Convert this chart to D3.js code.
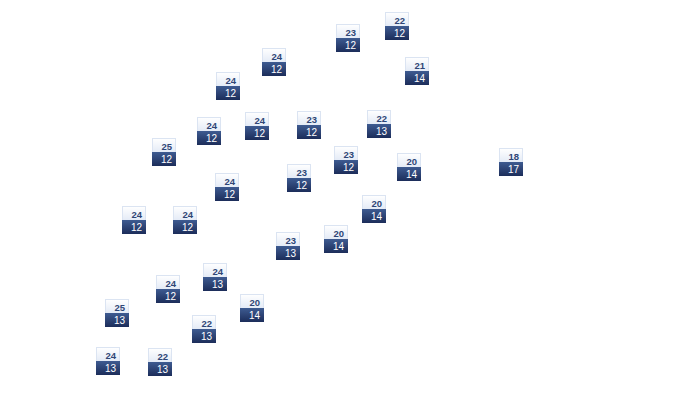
<!DOCTYPE html>
<html>
<head>
<meta charset="utf-8">
<script src="https://cdn.jsdelivr.net/npm/d3@7"></script>
<style>
  html, body { margin: 0; padding: 0; background: #ffffff; }
  svg { display: block; }
</style>
</head>
<body>
<div id="chart"></div>
<script>
// Data
const xValues = [39.7, 34.8, 27.4, 41.7, 22.8, 20.9, 25.7, 30.9, 37.9, 16.4, 34.6, 40.9, 51.1, 22.7,
                 29.9, 37.4, 13.4, 18.5, 33.6, 28.8, 21.5, 16.8, 11.7, 25.2, 20.4, 10.8, 16.0];
const yValues = [38.4, 37.2, 34.8, 33.9, 32.4, 27.9, 28.4, 28.5, 28.6, 25.8, 25.0, 24.3, 24.8, 22.3,
                 23.2, 20.1, 19.0, 19.0, 17.1, 16.4, 13.3, 12.1, 9.7, 10.2, 8.1, 4.9, 4.8];
const topLabels = [22, 23, 24, 21, 24, 24, 24, 23, 22, 25, 23, 20, 18, 24,
                   23, 20, 24, 24, 20, 23, 24, 24, 25, 20, 22, 24, 22];
const bottomLabels = [12, 12, 12, 14, 12, 12, 12, 12, 13, 12, 12, 14, 17, 12,
                      12, 14, 12, 12, 14, 13, 13, 12, 13, 14, 13, 13, 13];

const width = 700, height = 410;
const svg = d3.select("#chart").append("svg")
  .attr("width", width).attr("height", height);

const defs = svg.append("defs");
const gTop = defs.append("linearGradient").attr("id", "gTop")
  .attr("x1", 0).attr("y1", 0).attr("x2", 0).attr("y2", 1);
gTop.append("stop").attr("offset", "0%").attr("stop-color", "#ffffff");
gTop.append("stop").attr("offset", "100%").attr("stop-color", "#e3eaf6");
const gBot = defs.append("linearGradient").attr("id", "gBot")
  .attr("x1", 0).attr("y1", 0).attr("x2", 0).attr("y2", 1);
gBot.append("stop").attr("offset", "0%").attr("stop-color", "#3e5b91");
gBot.append("stop").attr("offset", "100%").attr("stop-color", "#1c2d5a");

const x = d3.scaleLinear().domain([0, 70]).range([0, 700]);
const y = d3.scaleLinear().domain([0, 41]).range([410, 0]);

const data = xValues.map((v, i) => ({ x: v, y: yValues[i], t: topLabels[i], b: bottomLabels[i] }));

const W = 24, H = 14;
const g = svg.selectAll("g.m").data(data).join("g")
  .attr("class", "m")
  .attr("transform", d => `translate(${Math.round(x(d.x) - W / 2)},${Math.round(y(d.y) - H)})`);

g.append("rect")
  .attr("x", 0.5).attr("y", 0.5).attr("width", W - 1).attr("height", H)
  .attr("fill", "url(#gTop)").attr("stroke", "#dbe4f2").attr("stroke-width", 1);
g.append("rect")
  .attr("x", 0).attr("y", H).attr("width", W).attr("height", H)
  .attr("fill", "url(#gBot)");

g.append("text")
  .attr("x", 20).attr("y", 11.8)
  .attr("text-anchor", "end")
  .style("font-family", "'Liberation Sans', Arial, sans-serif")
  .style("font-size", "9.5px").style("font-weight", "bold")
  .attr("fill", "#2f4676")
  .text(d => d.t);

g.append("text")
  .attr("x", 20).attr("y", 25)
  .attr("text-anchor", "end")
  .style("font-family", "'Liberation Sans', Arial, sans-serif")
  .style("font-size", "10px")
  .attr("fill", "#ffffff")
  .text(d => d.b);
</script>
</body>
</html>
